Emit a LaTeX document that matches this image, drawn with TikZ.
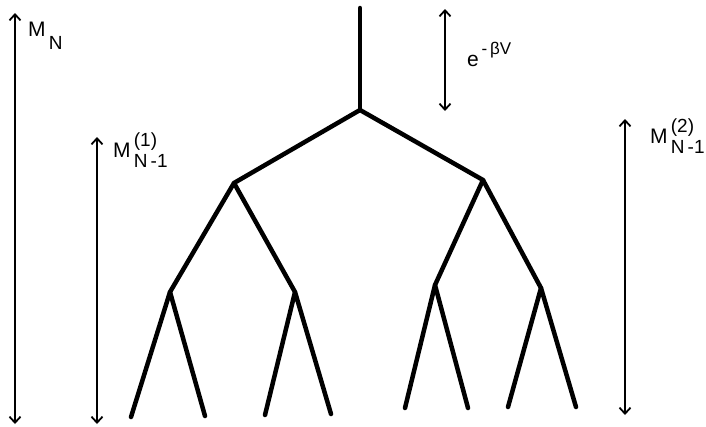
\documentclass[tikz,border=0pt]{standalone}
\usepackage{fontspec}
\setmainfont{Liberation Sans}
\usetikzlibrary{arrows.meta}
\begin{document}
\begin{tikzpicture}[x=1pt,y=-1pt,
  branch/.style={line width=4.5pt, line cap=round, line join=round},
  span/.style={line width=1.8pt, {Straight Barb[length=6pt,width=11pt]}-{Straight Barb[length=6pt,width=11pt]}},
  lab/.style={inner sep=0pt, anchor=base west, font=\fontsize{21}{23}\selectfont}]
\useasboundingbox (0,0) rectangle (706,426);

% tree vertices
\coordinate (top) at (360,8);
\coordinate (r)   at (360,110);
\coordinate (a)   at (234,183);
\coordinate (b)   at (483,180);
\coordinate (aa)  at (170,292);
\coordinate (ab)  at (295,292);
\coordinate (ba)  at (435,285);
\coordinate (bb)  at (541,288);
\coordinate (l1)  at (131,417);
\coordinate (l2)  at (205,416);
\coordinate (l3)  at (265,415);
\coordinate (l4)  at (331,414);
\coordinate (l5)  at (405,408);
\coordinate (l6)  at (468,408);
\coordinate (l7)  at (508,407);
\coordinate (l8)  at (576,407);

% tree
\draw[branch] (top) -- (r);
\draw[branch] (a) -- (r) -- (b);
\draw[branch] (aa) -- (a) -- (ab);
\draw[branch] (ba) -- (b) -- (bb);
\draw[branch] (l1) -- (aa) -- (l2);
\draw[branch] (l3) -- (ab) -- (l4);
\draw[branch] (l5) -- (ba) -- (l6);
\draw[branch] (l7) -- (bb) -- (l8);

% scale arrows
\coordinate (mnT) at (15,13);   \coordinate (mnB) at (15,424);
\coordinate (m1T) at (97,137);  \coordinate (m1B) at (97,424);
\coordinate (eT)  at (445,9);   \coordinate (eB)  at (445,111);
\coordinate (m2T) at (625,119); \coordinate (m2B) at (625,415);
\draw[span] (mnT) -- (mnB);
\draw[span] (m1T) -- (m1B);
\draw[span] (eT) -- (eB);
\draw[span] (m2T) -- (m2B);

% labels
\node[lab] (lmn) at (28,36) {M\raisebox{-13pt}{\fontsize{19}{21}\selectfont\,N}};
\node[lab] (lm1) at (113,157) {M\rlap{\raisebox{11pt}{\fontsize{19}{21}\selectfont\,(1)}}\raisebox{-10pt}{\fontsize{19}{21}\selectfont\,N\,-1}};
\node[lab] (lm2) at (650,143) {M\rlap{\raisebox{11pt}{\fontsize{19}{21}\selectfont\,(2)}}\raisebox{-10pt}{\fontsize{19}{21}\selectfont\,N\,-1}};
\node[lab, font=\fontsize{21}{23}\selectfont] (le) at (467,66) {e\raisebox{12pt}{\fontsize{17}{19}\selectfont\,-\,βV}};
\end{tikzpicture}
\end{document}
